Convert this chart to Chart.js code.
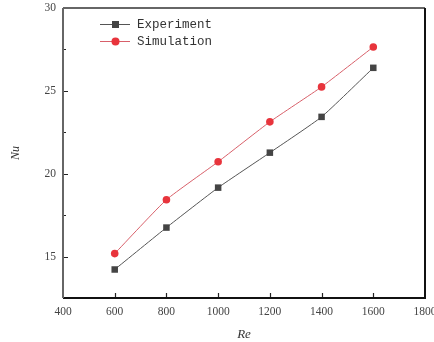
<!DOCTYPE html>
<html lang="en">
<head>
    <meta charset="UTF-8">
    <title>Nu vs Re</title>
    <script src="https://cdn.jsdelivr.net/npm/chart.js"></script>
    <style>
        html, body {
            margin: 0;
            padding: 0;
            background: white;
        }
        #wrap {
            width: 434px;
            height: 342px;
        }
    </style>
</head>
<body>
    <div id="wrap"><canvas id="grafico" width="434" height="342"></canvas></div>

    <script>
        // data
        let reValues = [600, 800, 1000, 1200, 1400, 1600];
        let experiment = [14.22, 16.75, 19.16, 21.27, 23.43, 26.39];
        let simulation = [15.18, 18.43, 20.72, 23.13, 25.24, 27.65];
        let seriesNames = ['Experiment', 'Simulation'];
        let yMajorTicks = [15, 20, 25, 30];

        let tickFont = { family: 'Liberation Serif', size: 11.5 };

        // box, inward ticks and legend
        let marcoPlugin = {
            id: 'marco',
            afterDraw(chart) {
                let ctx = chart.ctx;
                let a = chart.chartArea;
                let xs = chart.scales.x;
                let ys = chart.scales.y;
                ctx.save();

                // ticks pointing into the plot
                ctx.strokeStyle = '#222';
                ctx.lineWidth = 1.2;
                ctx.beginPath();
                for (let v = 600; v <= 1600; v += 200) {
                    let px = Math.round(xs.getPixelForValue(v)) + 0.5;
                    ctx.moveTo(px, a.bottom);
                    ctx.lineTo(px, a.bottom - 5);
                }
                for (let v = 15; v < 30; v += 2.5) {
                    let py = Math.round(ys.getPixelForValue(v)) + 0.5;
                    let len = (v % 5 === 0) ? 5 : 3;
                    ctx.moveTo(a.left, py);
                    ctx.lineTo(a.left + len, py);
                }
                ctx.stroke();

                // frame
                ctx.strokeStyle = '#333';
                ctx.lineWidth = 1.5;
                ctx.beginPath();
                ctx.moveTo(a.left, a.top);
                ctx.lineTo(a.right, a.top);
                ctx.stroke();
                ctx.lineWidth = 2;
                ctx.strokeStyle = '#111';
                ctx.beginPath();
                ctx.moveTo(a.right, a.top);
                ctx.lineTo(a.right, a.bottom);
                ctx.lineTo(a.left, a.bottom);
                ctx.stroke();
                ctx.strokeStyle = '#666';
                ctx.beginPath();
                ctx.moveTo(a.left, a.bottom);
                ctx.lineTo(a.left, a.top);
                ctx.stroke();

                // legend
                let filas = [24, 41];
                chart.data.datasets.forEach((ds, i) => {
                    let y = filas[i];
                    ctx.strokeStyle = ds.borderColor;
                    ctx.lineWidth = 1;
                    ctx.beginPath();
                    ctx.moveTo(100, y + 0.5);
                    ctx.lineTo(130, y + 0.5);
                    ctx.stroke();
                    ctx.fillStyle = ds.pointBackgroundColor;
                    ctx.beginPath();
                    if (ds.pointStyle === 'rect') {
                        ctx.rect(112, y - 3, 7, 7);
                    } else {
                        ctx.arc(115.5, y + 0.5, 4, 0, Math.PI * 2);
                    }
                    ctx.fill();
                    ctx.fillStyle = '#333';
                    ctx.font = '12.5px "Liberation Mono"';
                    ctx.textBaseline = 'middle';
                    ctx.textAlign = 'left';
                    ctx.fillText(seriesNames[i], 137, y + 1);
                });
                ctx.restore();
            }
        };

        let ctx = document.getElementById('grafico').getContext('2d');
        let chart = new Chart(ctx, {
            type: 'scatter',
            data: {
                datasets: [
                    {
                        label: seriesNames[0],
                        data: reValues.map((x, i) => ({ x: x, y: experiment[i] })),
                        showLine: true,
                        tension: 0.15,
                        borderColor: '#555555',
                        borderWidth: 1,
                        pointStyle: 'rect',
                        pointRadius: 4.6,
                        pointBackgroundColor: '#444444',
                        pointBorderWidth: 0
                    },
                    {
                        label: seriesNames[1],
                        data: reValues.map((x, i) => ({ x: x, y: simulation[i] })),
                        showLine: true,
                        tension: 0.15,
                        borderColor: '#d8606a',
                        borderWidth: 1,
                        pointStyle: 'circle',
                        pointRadius: 3.8,
                        pointBackgroundColor: '#e8343c',
                        pointBorderWidth: 0
                    }
                ]
            },
            options: {
                responsive: false,
                animation: false,
                layout: { padding: { left: 0, right: 9, top: 8, bottom: 0 } },
                plugins: {
                    legend: { display: false },
                    tooltip: { enabled: false }
                },
                scales: {
                    x: {
                        type: 'linear',
                        min: 400,
                        max: 1800,
                        grid: { display: false, drawTicks: false },
                        border: { display: false },
                        ticks: {
                            stepSize: 200,
                            padding: 7,
                            color: '#444',
                            font: tickFont,
                            callback: (v) => String(v)
                        },
                        title: {
                            display: true,
                            text: 'Re',
                            color: '#333',
                            padding: { top: 5, bottom: 0 },
                            font: { family: 'Liberation Serif', size: 13, style: 'italic' }
                        },
                        afterFit(scale) {
                            scale.height = 44;
                            scale.paddingLeft = 0;
                            scale.paddingRight = 0;
                        }
                    },
                    y: {
                        min: 12.5,
                        max: 30,
                        grid: { display: false, drawTicks: false },
                        border: { display: false },
                        ticks: {
                            stepSize: 2.5,
                            padding: 7,
                            color: '#444',
                            font: tickFont,
                            callback: (v) => yMajorTicks.includes(v) ? String(v) : ''
                        },
                        title: {
                            display: true,
                            text: 'Nu',
                            color: '#333',
                            padding: { top: 9, bottom: 0 },
                            font: { family: 'Liberation Serif', size: 12, style: 'italic' }
                        },
                        afterFit(scale) {
                            scale.width = 63;
                            scale.paddingTop = 0;
                            scale.paddingBottom = 0;
                        }
                    }
                }
            },
            plugins: [marcoPlugin]
        });
    </script>
</body>
</html>
